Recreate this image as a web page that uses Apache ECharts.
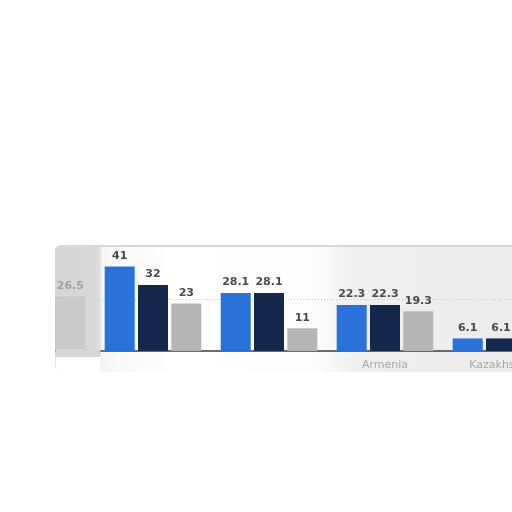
<!DOCTYPE html>
<html>
<head>
<meta charset="utf-8">
<script src="https://cdn.jsdelivr.net/npm/echarts@6/dist/echarts.min.js"></script>
<style>
  html, body { margin: 0; padding: 0; background: #ffffff; width: 512px; height: 512px; overflow: hidden; }
  #panel {
    position: absolute; left: 55px; top: 245px; width: 457px; height: 125px; overflow: hidden;
    background: linear-gradient(to right, #d4d4d4 0px, #dbdbdb 40px, #f6f6f6 48px, #ffffff 120px, #fdfdfd 260px, #efefef 300px, #ececec 457px);
    border-top: 2px solid #d6d6d6;
    border-radius: 6px 0 0 6px;
  }
  #chart { position: absolute; left: -86.5px; top: 0px; width: 600px; height: 125px; }
</style>
</head>
<body>
<div id="panel"><div id="chart"></div></div>
<script>
const categories = ['', '', '', 'Armenia', 'Kazakhstan'];
const seriesBlue = [null, 41, 28.1, 22.3, 6.1];
const seriesNavy = [null, 32, 28.1, 22.3, 6.1];
const seriesGray = [26.5, 23, 11, 19.3, null];
const yTicks = [0, 25, 50];

const chart = echarts.init(document.getElementById('chart'), null, { renderer: 'canvas' });

const labelStyle = {
  show: true, position: 'top', distance: 5,
  color: '#4a4a4a', fontFamily: 'DejaVu Sans', fontSize: 11, fontWeight: 'bold'
};

chart.setOption({
  animation: false,
  grid: { left: 10, right: 10, top: 1, bottom: 21, containLabel: false },
  xAxis: {
    type: 'category',
    data: categories,
    axisLine: { show: true, lineStyle: { color: '#3c3c3c', width: 1.5 } },
    axisTick: { show: false },
    axisLabel: { color: '#a8a8a8', fontFamily: 'DejaVu Sans', fontSize: 11, margin: 9 }
  },
  yAxis: {
    type: 'value',
    min: yTicks[0], max: yTicks[yTicks.length - 1], interval: 25,
    axisLine: { show: false }, axisTick: { show: false }, axisLabel: { show: false },
    splitLine: { show: true, showMinLine: false, showMaxLine: false,
      lineStyle: { color: '#c8c8c8', type: [1, 2], width: 1 } }
  },
  series: [
    { type: 'bar', data: seriesBlue, barWidth: 30, barGap: '11%', itemStyle: { color: '#2a72d9' }, label: labelStyle },
    { type: 'bar', data: seriesNavy, barWidth: 30, barGap: '11%', itemStyle: { color: '#13284a' }, label: labelStyle },
    { type: 'bar', data: seriesGray, barWidth: 30, barGap: '11%', itemStyle: { color: '#b5b5b5' }, label: labelStyle }
  ],
  graphic: [
    { type: 'rect', z: 100, shape: { x: 86.5, y: 0, width: 45, height: 102 },
      style: { fill: 'rgba(214,214,214,0.62)' } },
    { type: 'rect', z: 100, shape: { x: 86.5, y: 102, width: 45, height: 8 },
      style: { fill: '#d6d6d6' } },
    { type: 'rect', z: 100, shape: { x: 86.5, y: 110, width: 45, height: 15 },
      style: { fill: '#ffffff' } }
  ]
});
</script>
</body>
</html>
